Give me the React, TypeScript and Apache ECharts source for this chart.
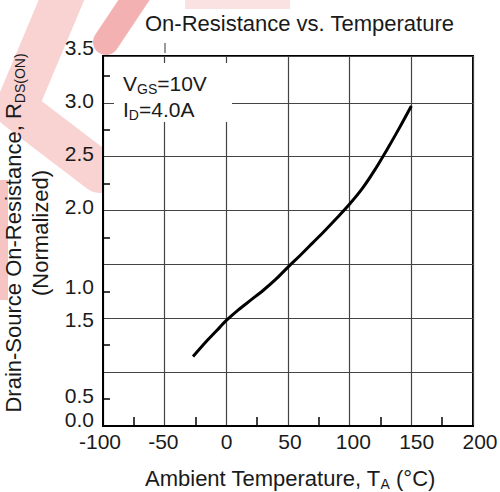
import React, { useEffect, useRef } from "react";
import * as echarts from "echarts";

// ---- data ----
const temperatures = [-27, -15, -5, 0, 10, 20, 30, 40, 50, 60, 70, 80, 90, 100, 110, 120, 130, 140, 150];
const resistance = [0.645, 0.8, 0.92, 0.98, 1.08, 1.17, 1.26, 1.36, 1.475, 1.585, 1.7, 1.815, 1.935, 2.06, 2.2, 2.37, 2.56, 2.76, 2.97];

// y tick labels as printed in the reference (positions on the label scale)
const yLabelValues = [0, 0.21875, 0.9375, 1.25, 2, 2.5, 3, 3.5];
const yLabelTexts = ["0.0", "0.5", "1.5", "1.0", "2.0", "2.5", "3.0", "3.5"];

const xMin = -100;
const xMax = 200;
const xStep = 50;
const yMin = 0;
const yPlotMax = 3.434;
const yStep = 0.5;

const titleText = "On-Resistance vs. Temperature";
const xTitle = "Ambient Temperature, T{s|A} (°C)";
const yTitle = "Drain-Source On-Resistance, R{s|DS(ON)}\n(Normalized)";
const noteLine1 = "V{s|GS}=10V";
const noteLine2 = "I{s|D}=4.0A";

const FONT = "'Liberation Sans', Arial, Helvetica, sans-serif";
const INK = "#1a1a1a";

export default function App() {
  const ref = useRef<HTMLDivElement>(null);

  useEffect(() => {
    document.body.style.margin = "0";
    if (!ref.current) return;
    const chart = echarts.init(ref.current, undefined, { renderer: "svg" });

    const subRich = {
      s: { fontSize: 14, lineHeight: 14, verticalAlign: "bottom", fontFamily: FONT, color: INK },
    };
    const noteRich = {
      s: { fontSize: 14, lineHeight: 14, verticalAlign: "bottom", fill: INK, fontFamily: FONT },
    };

    const option: any = {
      animation: false,
      backgroundColor: "#fff",
      title: {
        text: titleText,
        left: 140,
        top: 7,
        textStyle: { fontSize: 22, fontWeight: "normal", color: INK, fontFamily: FONT },
      },
      grid: [
        {
          left: 103,
          right: 27,
          top: 56,
          bottom: 66,
          show: true,
          backgroundColor: "#fff",
          borderColor: "#000",
          borderWidth: 2,
          outerBoundsMode: "none",
          containLabel: false,
        },
        { left: 100, right: 20, top: 47, bottom: 73, show: false, outerBoundsMode: "none", containLabel: false },
      ],
      xAxis: [
        {
          type: "value",
          gridIndex: 0,
          min: xMin,
          max: xMax,
          interval: xStep,
          axisLine: { show: true, onZero: false, lineStyle: { color: "#000", width: 2 } },
          axisTick: { show: false, inside: true },
          minorTick: { show: true, splitNumber: 2, length: 9, lineStyle: { color: "#000", width: 1.5 } },
          axisLabel: { show: false },
          splitLine: { show: true, lineStyle: { color: "#444", width: 1.2 } },
        },
        {
          type: "value",
          gridIndex: 1,
          min: xMin,
          max: xMax,
          interval: xStep,
          axisLine: { show: false, onZero: false },
          axisTick: { show: false },
          splitLine: { show: false },
          axisLabel: { fontSize: 21, color: INK, fontFamily: FONT, margin: 12 },
          name: xTitle,
          nameLocation: "middle",
          nameGap: 46,
          nameTextStyle: {
            fontSize: 22,
            lineHeight: 26,
            color: INK,
            fontFamily: FONT,
            rich: subRich,
          },
        },
      ],
      yAxis: [
        {
          type: "value",
          gridIndex: 0,
          min: yMin,
          max: yPlotMax,
          interval: yStep,
          axisLine: { show: true, onZero: false, lineStyle: { color: "#000", width: 2 } },
          axisTick: { show: false, inside: true },
          minorTick: { show: true, splitNumber: 2, length: 7, lineStyle: { color: "#000", width: 1.5 } },
          axisLabel: { show: false },
          splitLine: { show: true, lineStyle: { color: "#444", width: 1.2 } },
        },
        {
          type: "value",
          gridIndex: 1,
          min: 0,
          max: 3.5,
          interval: 0.03125,
          axisLine: { show: false, onZero: false },
          axisTick: { show: false },
          splitLine: { show: false },
          axisLabel: {
            fontSize: 21,
            lineHeight: 17,
            color: INK,
            fontFamily: FONT,
            margin: 6,
            formatter: (v: number) => {
              const i = yLabelValues.findIndex((p) => Math.abs(p - v) < 1e-6);
              return i >= 0 ? yLabelTexts[i] : "";
            },
          },
          name: yTitle,
          nameLocation: "middle",
          nameRotate: 90,
          nameGap: 36,
          nameTextStyle: {
            fontSize: 22,
            lineHeight: 27,
            color: INK,
            fontFamily: FONT,
            align: "center",
            rich: subRich,
          },
        },
      ],
      series: [
        {
          type: "line",
          xAxisIndex: 0,
          yAxisIndex: 0,
          data: temperatures.map((t, i) => [t, resistance[i]]),
          showSymbol: false,
          smooth: 0.3,
          lineStyle: { color: "#000", width: 3 },
          z: 5,
        },
      ],
      graphic: [
        // faint red watermark behind the chart
        {
          type: "polyline",
          z: -10,
          silent: true,
          shape: { points: [[72, -25], [16, 108], [100, 172]] },
          style: { stroke: "rgba(232,80,80,0.26)", lineWidth: 42, fill: "none", lineJoin: "round", lineCap: "round" },
        },
        {
          type: "polyline",
          z: -10,
          silent: true,
          shape: { points: [[142, -12], [106, 42]] },
          style: { stroke: "rgba(222,40,40,0.36)", lineWidth: 26, fill: "none", lineCap: "round" },
        },
        {
          type: "line",
          z: -10,
          silent: true,
          shape: { x1: 185, y1: 2, x2: 290, y2: 2 },
          style: { stroke: "rgba(235,110,110,0.2)", lineWidth: 14 },
        },
        {
          type: "line",
          z: -10,
          silent: true,
          shape: { x1: 0, y1: 180, x2: 0, y2: 300 },
          style: { stroke: "rgba(230,60,60,0.3)", lineWidth: 16 },
        },
        // stub line above the plot box
        {
          type: "line",
          z: 3,
          silent: true,
          shape: { x1: 165, y1: 43, x2: 165, y2: 53 },
          style: { stroke: "#555", lineWidth: 1.2 },
        },
        // white box behind the test-condition note
        {
          type: "rect",
          z: 3,
          silent: true,
          shape: { x: 114, y: 63, width: 118, height: 59 },
          style: { fill: "#fff" },
        },
        {
          type: "text",
          z: 4,
          left: 123,
          top: 71,
          style: { text: noteLine1, fontSize: 21, lineHeight: 25, fill: INK, fontFamily: FONT, rich: noteRich },
        },
        {
          type: "text",
          z: 4,
          left: 123,
          top: 97,
          style: { text: noteLine2, fontSize: 21, lineHeight: 25, fill: INK, fontFamily: FONT, rich: noteRich },
        },
      ],
    };

    chart.setOption(option);
    return () => chart.dispose();
  }, []);

  return <div ref={ref} style={{ width: 500, height: 492, overflow: "hidden" }} />;
}
